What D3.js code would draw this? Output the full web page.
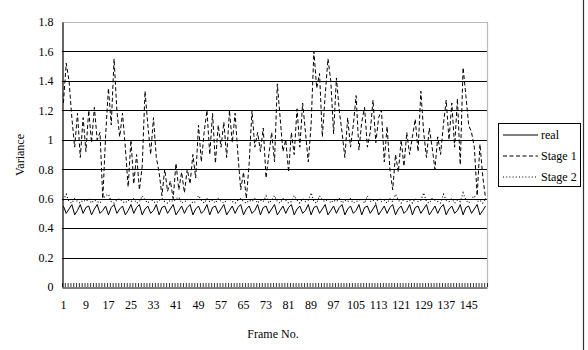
<!DOCTYPE html>
<html>
<head>
<meta charset="utf-8">
<script src="https://cdn.jsdelivr.net/npm/d3@7"></script>
<style>
body { margin: 0; background: #fff; }
text { font-family: "Liberation Serif", "Times New Roman", serif; font-size: 12px; fill: #000; }
</style>
</head>
<body>
<svg width="588" height="350"></svg>
<script>
// frame numbers on the category axis
var frames = d3.range(1, 152);
var frameLabels = ["1","9","17","25","33","41","49","57","65","73","81","89","97","105","113","121","129","137","145"];
var yTicks = [0, 0.2, 0.4, 0.6, 0.8, 1, 1.2, 1.4, 1.6, 1.8];

var real = [
  0.55,0.50,0.53,0.56,0.49,0.52,0.56,0.50,0.54,0.55,
  0.49,0.53,0.56,0.50,0.52,0.55,0.49,0.54,0.56,0.50,
  0.53,0.55,0.49,0.52,0.56,0.50,0.54,0.56,0.49,0.53,
  0.55,0.50,0.52,0.56,0.49,0.54,0.55,0.50,0.53,0.56,
  0.49,0.52,0.55,0.50,0.54,0.56,0.49,0.53,0.55,0.50,
  0.52,0.56,0.49,0.54,0.55,0.50,0.53,0.56,0.49,0.52,
  0.55,0.50,0.54,0.56,0.49,0.53,0.55,0.50,0.52,0.56,
  0.49,0.54,0.55,0.50,0.53,0.56,0.49,0.52,0.55,0.50,
  0.54,0.56,0.49,0.53,0.55,0.50,0.52,0.56,0.49,0.54,
  0.55,0.50,0.53,0.56,0.49,0.52,0.55,0.50,0.54,0.56,
  0.49,0.53,0.55,0.50,0.52,0.56,0.49,0.54,0.55,0.50,
  0.53,0.56,0.49,0.52,0.55,0.50,0.54,0.56,0.49,0.53,
  0.55,0.50,0.52,0.56,0.49,0.54,0.55,0.50,0.53,0.56,
  0.49,0.52,0.55,0.50,0.54,0.56,0.49,0.53,0.55,0.50,
  0.52,0.56,0.49,0.54,0.55,0.50,0.53,0.56,0.49,0.52,
  0.55];

var stage1 = [
  1.25,1.52,1.40,1.15,0.95,1.18,0.88,1.15,0.92,1.20,
  0.98,1.22,1.00,1.05,0.60,1.03,1.35,1.10,1.55,1.20,
  1.02,1.18,0.95,0.68,1.00,0.70,0.90,0.66,0.82,1.33,
  1.10,0.90,1.15,0.88,0.78,0.62,0.80,0.65,0.72,0.60,
  0.84,0.66,0.78,0.64,0.80,0.70,0.90,0.74,1.10,0.85,
  1.05,1.20,0.90,1.18,0.84,1.10,0.95,1.12,0.88,1.20,
  0.98,1.18,0.90,0.66,0.78,0.60,0.84,1.20,0.95,1.05,
  0.92,1.08,0.74,0.90,1.05,0.85,1.38,1.15,0.92,1.00,
  0.78,1.05,0.90,1.21,0.95,1.25,1.05,0.85,1.10,1.60,
  1.35,1.45,1.02,1.30,1.55,1.40,1.04,1.42,1.20,1.05,
  0.88,1.15,0.95,1.10,1.30,0.93,1.12,1.22,0.95,1.05,
  1.27,0.98,1.15,1.20,0.85,1.09,0.80,0.66,0.90,0.78,
  1.00,0.82,1.05,0.90,1.02,1.14,0.92,1.33,1.05,0.88,
  1.08,0.95,0.80,1.02,0.90,1.10,1.27,1.00,1.25,0.95,
  1.28,0.83,1.49,1.30,1.10,1.05,0.95,0.62,0.97,0.75,
  0.60];

var stage2 = [
  0.59,0.63,0.58,0.57,0.60,0.58,0.57,0.59,0.58,0.60,
  0.57,0.59,0.58,0.57,0.60,0.62,0.63,0.58,0.57,0.59,
  0.60,0.58,0.57,0.59,0.58,0.60,0.57,0.58,0.62,0.59,
  0.57,0.60,0.58,0.57,0.59,0.60,0.58,0.57,0.59,0.58,
  0.60,0.61,0.57,0.58,0.59,0.60,0.57,0.58,0.62,0.59,
  0.57,0.60,0.58,0.59,0.57,0.60,0.58,0.57,0.59,0.60,
  0.58,0.57,0.59,0.60,0.58,0.57,0.59,0.58,0.60,0.57,
  0.59,0.58,0.62,0.57,0.59,0.62,0.58,0.57,0.60,0.59,
  0.57,0.58,0.62,0.59,0.57,0.60,0.58,0.59,0.64,0.58,
  0.57,0.62,0.59,0.58,0.60,0.57,0.59,0.58,0.60,0.57,
  0.59,0.58,0.60,0.57,0.58,0.59,0.60,0.57,0.62,0.58,
  0.59,0.57,0.60,0.58,0.59,0.57,0.60,0.58,0.63,0.59,
  0.57,0.60,0.58,0.59,0.57,0.60,0.58,0.59,0.64,0.58,
  0.57,0.60,0.59,0.58,0.57,0.63,0.59,0.58,0.60,0.57,
  0.59,0.58,0.64,0.59,0.57,0.60,0.62,0.58,0.59,0.57,
  0.60];

var series = [
  {name: "real", values: real, dash: null, w: 1},
  {name: "Stage 1", values: stage1, dash: "4,2.5", w: 1},
  {name: "Stage 2", values: stage2, dash: "1,2.2", w: 1.1}
];

var svg = d3.select("svg");
var plotL = 62, plotR = 487, plotT = 22, plotB = 287;

var x = d3.scaleBand().domain(frames).range([plotL, plotR]).padding(0);
var y = d3.scaleLinear().domain([0, 1.8]).range([plotB, plotT]);
var cx = function(f) { return x(f) + x.bandwidth() / 2; };

svg.append("rect").attr("width", 588).attr("height", 350).attr("fill", "#fff");

// gridlines
svg.selectAll(".grid")
    .data(yTicks.filter(function(d) { return d > 0 && d < 1.8; }))
    .enter().append("line")
    .attr("x1", plotL).attr("x2", plotR)
    .attr("y1", function(d) { return Math.round(y(d)) + 0.5; })
    .attr("y2", function(d) { return Math.round(y(d)) + 0.5; })
    .attr("stroke", "#000").attr("stroke-width", 1.2);

// plot border top/right
svg.append("path")
    .attr("d", "M" + plotL + "," + (plotT + 0.5) + "H" + (plotR + 0.5) + "V" + plotB)
    .attr("fill", "none").attr("stroke", "#bbb").attr("stroke-width", 1.2);

// series
var line = d3.line()
    .x(function(d, i) { return cx(frames[i]); })
    .y(function(d) { return y(d); });

svg.selectAll(".series")
    .data(series)
    .enter().append("path")
    .attr("d", function(s) { return line(s.values); })
    .attr("fill", "none")
    .attr("stroke", "#000")
    .attr("stroke-width", function(s) { return s.w; })
    .attr("stroke-dasharray", function(s) { return s.dash; });

// y axis
var yAxis = d3.axisLeft(y).tickValues(yTicks).tickSize(0).tickPadding(9)
    .tickFormat(function(d) { return d === 0 ? "0" : (d === 1 ? "1" : d3.format(".1f")(d)); });
var gy = svg.append("g").attr("transform", "translate(" + (plotL + 0.5) + ",0)").call(yAxis);
gy.select(".domain").attr("stroke", "#000").attr("stroke-width", 1.2);
gy.selectAll("text").style("font-family", "Liberation Serif").style("font-size", "12px");

// x axis: ticks between categories, pointing inward
var xAxis = d3.axisBottom(x).tickValues(frameLabels.map(Number)).tickSize(0).tickPadding(13);
var gx = svg.append("g").attr("transform", "translate(0," + (plotB + 0.5) + ")").call(xAxis);
gx.select(".domain").attr("stroke", "#000").attr("stroke-width", 1.2);
gx.selectAll("text").style("font-family", "Liberation Serif").style("font-size", "12px");

svg.selectAll(".xtick")
    .data(frames.concat([null]))
    .enter().append("line")
    .attr("x1", function(f) { return (f === null ? plotR : x(f)) + 0.5; })
    .attr("x2", function(f) { return (f === null ? plotR : x(f)) + 0.5; })
    .attr("y1", plotB).attr("y2", plotB - 4)
    .attr("stroke", "#000").attr("stroke-width", 0.8);

// axis titles
svg.append("text").attr("x", 273).attr("y", 338).attr("text-anchor", "middle").text("Frame No.");
svg.append("text").attr("transform", "translate(24,155) rotate(-90)")
    .attr("text-anchor", "middle").text("Variance");

// legend
var lg = svg.append("g");
lg.append("rect").attr("x", 498.5).attr("y", 123.5).attr("width", 82).attr("height", 63)
    .attr("fill", "#fff").attr("stroke", "#000").attr("stroke-width", 1);
var ly = d3.scalePoint().domain(series.map(function(s) { return s.name; })).range([135, 177]);
series.forEach(function(s) {
  lg.append("line").attr("x1", 503).attr("x2", 538)
      .attr("y1", ly(s.name)).attr("y2", ly(s.name))
      .attr("stroke", "#000").attr("stroke-width", s.w).attr("stroke-dasharray", s.dash);
  lg.append("text").attr("x", 541).attr("y", ly(s.name) + 4).text(s.name);
});

// outer chart border at right
svg.append("line").attr("x1", 583.5).attr("x2", 583.5).attr("y1", 0).attr("y2", 350)
    .attr("stroke", "#333").attr("stroke-width", 1.2);
</script>
</body>
</html>
